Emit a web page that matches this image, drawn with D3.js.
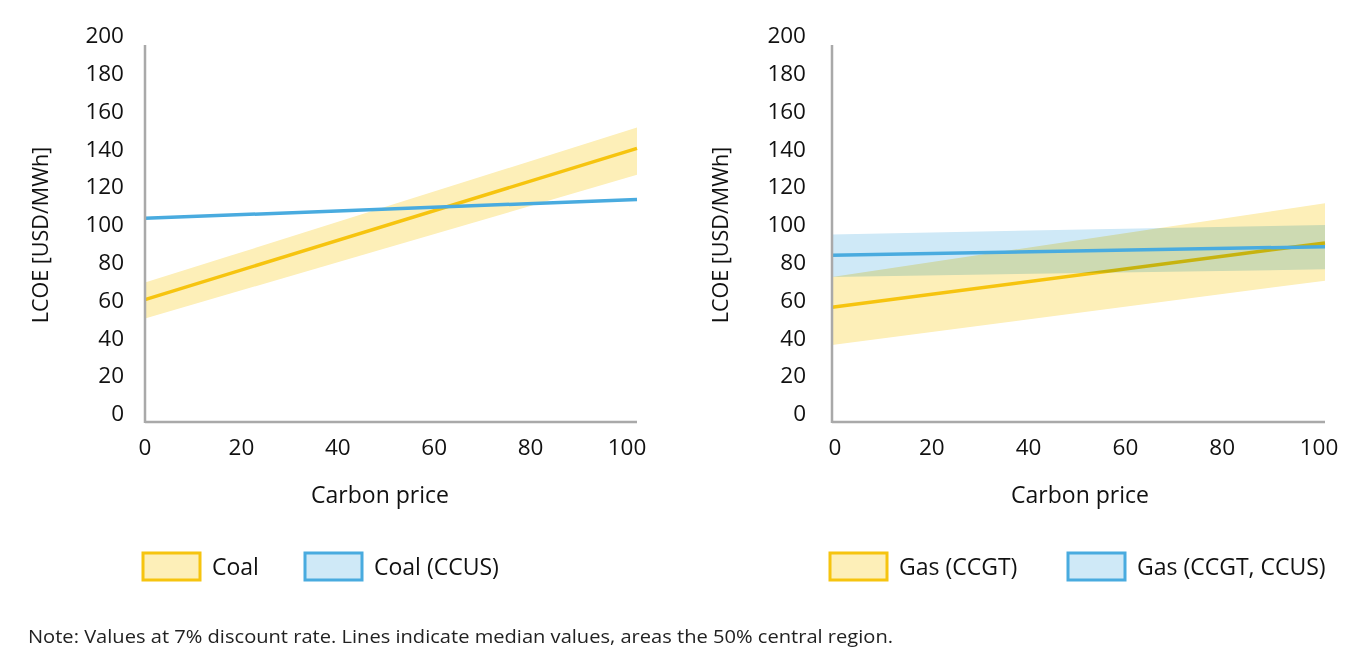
<!DOCTYPE html>
<html><head><meta charset="utf-8">
<script src="https://cdn.jsdelivr.net/npm/d3@7"></script>
<style>
body{margin:0;background:#fff;}
text{font-family:"Open Sans",sans-serif;fill:#111;}
</style></head>
<body><svg id="c" width="1360" height="666"></svg>
<script>
// ---- data ----
const carbonPrice = [0, 100];
const xTicks = [0, 20, 40, 60, 80, 100];
const yTicks = [0, 20, 40, 60, 80, 100, 120, 140, 160, 180, 200];

const coalMedian = [60, 140];
const coalLow = [50, 126];
const coalHigh = [69, 151];

const coalCcusMedian = [103, 113];
const coalCcusLow = [102.5, 112.5];
const coalCcusHigh = [103.5, 113.5];

const gasMedian = [56, 90];
const gasLow = [36, 70];
const gasHigh = [72, 111];

const gasCcusMedian = [83.5, 88];
const gasCcusLow = [72, 76];
const gasCcusHigh = [94.5, 99.5];

const legendLeft = ["Coal", "Coal (CCUS)"];
const legendRight = ["Gas (CCGT)", "Gas (CCGT, CCUS)"];
const yTitle = "LCOE [USD/MWh]";
const xTitle = "Carbon price";
const note = "Note: Values at 7% discount rate. Lines indicate median values, areas the 50% central region.";

const YEL_LINE = "#f6c40f", YEL_FILL = "#fdefb8";
const BLU_LINE = "#49abdf", BLU_FILL = "#cfe9f7";

const svg = d3.select("#c");
const y = d3.scaleLinear().domain([0, 200]).range([413, 35]);

function panel(x0, x1, labX0, labX1, tickRight, titleX, xTitleX, series, legend, legX) {
  const x = d3.scaleLinear().domain([0, 100]).range([x0, x1]);
  const xl = d3.scaleLinear().domain([0, 100]).range([labX0, labX1]);
  const g = svg.append("g");
  series.forEach(s => {
    const pts = carbonPrice.map((c, i) => ({c, lo: s.lo[i], hi: s.hi[i], m: s.med[i]}));
    g.append("path").datum(pts)
      .attr("d", d3.area().x(d => x(d.c)).y0(d => y(d.lo)).y1(d => y(d.hi)))
      .attr("fill", s.fill).style("mix-blend-mode", "multiply");
    g.append("path").datum(pts)
      .attr("d", d3.line().x(d => x(d.c)).y(d => y(d.m)))
      .attr("fill", "none").attr("stroke", s.line).attr("stroke-width", 3.5);
  });
  const axisBottom = y(0) + 9;
  g.append("line").attr("x1", x0).attr("x2", x0).attr("y1", 45).attr("y2", axisBottom + 1)
    .attr("stroke", "#a9a9a9").attr("stroke-width", 2.5);
  g.append("line").attr("x1", x0).attr("x2", x1).attr("y1", axisBottom).attr("y2", axisBottom)
    .attr("stroke", "#a9a9a9").attr("stroke-width", 2.5);
  g.selectAll(".yt").data(yTicks).enter().append("text")
    .attr("x", tickRight).attr("y", d => y(d)).attr("dy", "0.36em")
    .attr("text-anchor", "end").attr("font-size", 22.5).text(d => d);
  g.selectAll(".xt").data(xTicks).enter().append("text")
    .attr("x", d => xl(d)).attr("y", 455)
    .attr("text-anchor", "middle").attr("font-size", 22.5).text(d => d);
  g.append("text").attr("transform", `translate(${titleX},235) rotate(-90)`)
    .attr("dy", "0.36em").attr("text-anchor", "middle").attr("font-size", 21.5).text(yTitle);
  g.append("text").attr("x", xTitleX).attr("y", 503)
    .attr("text-anchor", "middle").attr("font-size", 23).text(xTitle);
  legend.forEach((l, i) => {
    const bx = legX[i];
    g.append("rect").attr("x", bx).attr("y", 553).attr("width", 57).attr("height", 27)
      .attr("fill", l.fill).attr("stroke", l.line).attr("stroke-width", 3);
    g.append("text").attr("x", bx + 69).attr("y", 567).attr("dy", "0.36em")
      .attr("font-size", 23).text(l.name);
  });
}

panel(145, 637, 145, 627, 124, 40, 380, [
  {lo: coalLow, hi: coalHigh, med: coalMedian, fill: YEL_FILL, line: YEL_LINE},
  {lo: coalCcusLow, hi: coalCcusHigh, med: coalCcusMedian, fill: BLU_FILL, line: BLU_LINE}
], [
  {name: legendLeft[0], fill: YEL_FILL, line: YEL_LINE},
  {name: legendLeft[1], fill: BLU_FILL, line: BLU_LINE}
], [143, 305]);

panel(832, 1325, 835, 1319, 806, 720, 1080, [
  {lo: gasLow, hi: gasHigh, med: gasMedian, fill: YEL_FILL, line: YEL_LINE},
  {lo: gasCcusLow, hi: gasCcusHigh, med: gasCcusMedian, fill: BLU_FILL, line: BLU_LINE}
], [
  {name: legendRight[0], fill: YEL_FILL, line: YEL_LINE},
  {name: legendRight[1], fill: BLU_FILL, line: BLU_LINE}
], [830, 1068]);

svg.append("text").attr("x", 28).attr("y", 643).attr("font-size", 18.5)
  .attr("textLength", 865).attr("lengthAdjust", "spacingAndGlyphs")
  .style("fill", "#222").text(note);
</script></body></html>
